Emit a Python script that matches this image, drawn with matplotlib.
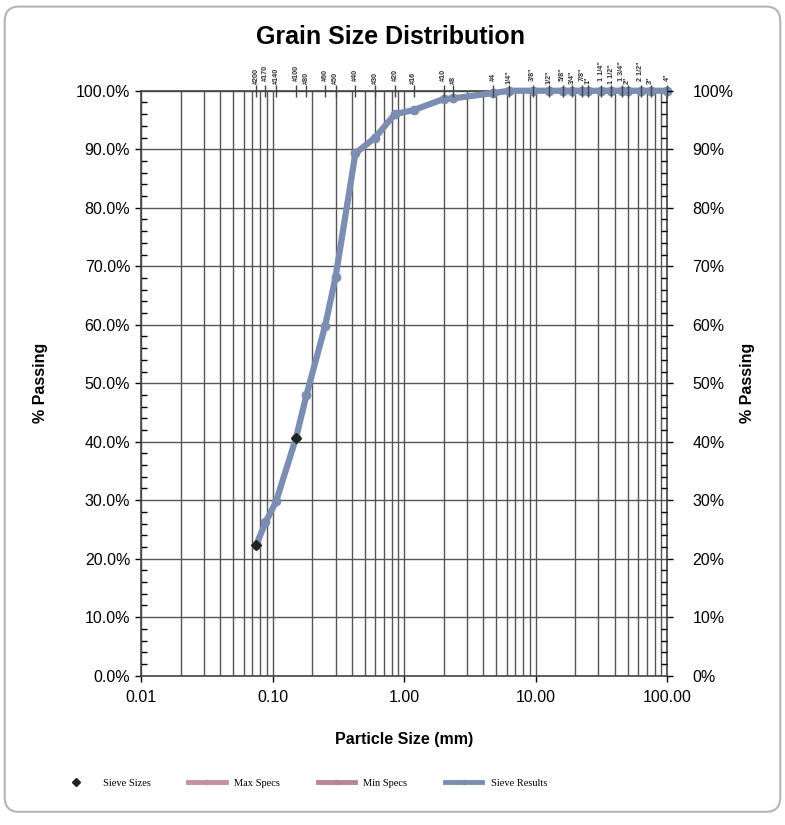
import matplotlib
matplotlib.use("Agg")
import matplotlib.pyplot as plt
from matplotlib.ticker import FixedLocator, MultipleLocator, NullFormatter, LogLocator
from matplotlib.patches import FancyBboxPatch
from matplotlib.lines import Line2D

# ---- data ----
sieve_labels = ['#200', '#170', '#140', '#100', '#80', '#60', '#50', '#40', '#30', '#20',
                '#16', '#10', '#8', '#4', '1/4"', '3/8"', '1/2"', '5/8"', '3/4"', '7/8"',
                '1"', '1 1/4"', '1 1/2"', '1 3/4"', '2"', '2 1/2"', '3"', '4"']
sieve_mm = [0.075, 0.088, 0.106, 0.15, 0.18, 0.25, 0.3, 0.425, 0.6, 0.85,
            1.18, 2.0, 2.36, 4.75, 6.3, 9.5, 12.5, 16, 19, 22.4,
            25, 31.5, 37.5, 45, 50, 63, 75, 100]
passing_pct = [22.4, 26.2, 29.8, 40.6, 47.9, 59.8, 68.1, 89.3, 92.0, 96.0,
               96.7, 98.6, 98.7, 99.6, 100, 100, 100, 100, 100, 100,
               100, 100, 100, 100, 100, 100, 100, 100]
highlight_idx = [0, 3]
x_ticks = [0.01, 0.1, 1, 10, 100]
x_ticklabels = ['0.01', '0.10', '1.00', '10.00', '100.00']
y_ticks = list(range(0, 101, 10))
y_left_labels = [f'{v:.1f}%' for v in y_ticks]
y_right_labels = [f'{v}%' for v in y_ticks]

res_color = '#7b8db0'
max_color = '#c6909f'
min_color = '#b8849a'

plt.rcParams['font.family'] = ['Liberation Sans', 'DejaVu Sans']

fig = plt.figure(figsize=(7.85, 8.25), dpi=100)
fig.patch.set_facecolor('white')

# frame
frame = FancyBboxPatch((0.006, 0.016), 0.988, 0.976, boxstyle='round,pad=0,rounding_size=0.018',
                       transform=fig.transFigure, fill=False, edgecolor='#b5b5b5', lw=1.5)
fig.patches.append(frame)

ax = fig.add_axes([0.180, 0.181, 0.670, 0.709])
ax.set_xscale('log')
ax.set_xlim(0.01, 100)
ax.set_ylim(0, 100)

ax.xaxis.set_major_locator(FixedLocator(x_ticks))
ax.set_xticks(x_ticks)
ax.set_xticklabels(x_ticklabels, fontsize=11.5)
ax.xaxis.set_minor_locator(LogLocator(base=10, subs=range(2, 10)))
ax.xaxis.set_minor_formatter(NullFormatter())
ax.grid(True, which='both', axis='x', color='#555555', lw=1.0)
ax.set_yticks(y_ticks)
ax.set_yticklabels(y_left_labels, fontsize=11.5)
ax.yaxis.set_minor_locator(MultipleLocator(2))
ax.grid(True, which='major', axis='y', color='#555555', lw=1.0)
ax.tick_params(axis='x', which='major', direction='out', length=4, width=1, pad=6)
ax.tick_params(axis='x', which='minor', length=0)
ax.tick_params(axis='y', which='major', direction='out', length=4, width=1, pad=4)
ax.tick_params(axis='y', which='minor', direction='in', length=4, width=1)
for s in ax.spines.values():
    s.set_color('#444444')
    s.set_linewidth(1.2)

ax2 = ax.twinx()
ax2.set_ylim(0, 100)
ax2.set_yticks(y_ticks)
ax2.set_yticklabels(y_right_labels, fontsize=11.5)
ax2.yaxis.set_minor_locator(MultipleLocator(2))
ax2.tick_params(axis='y', which='major', direction='out', length=4, width=1, pad=14)
ax2.tick_params(axis='y', which='minor', direction='in', length=4, width=1)
for s in ax2.spines.values():
    s.set_visible(False)

# sieve results curve
ax.plot(sieve_mm, passing_pct, color=res_color, lw=4.5, marker='o', ms=6,
        markerfacecolor=res_color, markeredgecolor=res_color, clip_on=False, zorder=5,
        solid_capstyle='round')
ax.plot([sieve_mm[i] for i in highlight_idx], [passing_pct[i] for i in highlight_idx],
        linestyle='none', marker='D', ms=5, color='#222222', zorder=6)

# sieve sizes at top with labels
ax.plot(sieve_mm, [100] * len(sieve_mm), linestyle='none', marker='|', ms=8,
        color='#444444', clip_on=False, zorder=6)
for i, (lab, d) in enumerate(zip(sieve_labels, sieve_mm)):
    ax.annotate(lab, xy=(d, 100), xytext=(0, 5 if i % 2 == 0 else 7), textcoords='offset points',
                rotation=90, ha='center', va='bottom', fontsize=5.2, color='#333333',
                fontweight='bold', annotation_clip=False)

ax.set_xlabel('Particle Size (mm)', fontsize=11.5, fontweight='bold', labelpad=20)
ax.set_ylabel('% Passing', fontsize=11.5, fontweight='bold', labelpad=20)
ax2.set_ylabel('% Passing', fontsize=11.5, fontweight='bold', labelpad=5)

fig.text(0.497, 0.955, 'Grain Size Distribution', ha='center', va='center',
         fontsize=18, fontweight='bold')

# legend
handles = [
    Line2D([], [], linestyle='none', marker='D', ms=4, color='#222222'),
    Line2D([], [], color=max_color, lw=3.5, marker='s', ms=3),
    Line2D([], [], color=min_color, lw=3.5, marker='o', ms=3),
    Line2D([], [], color=res_color, lw=3.5, marker='o', ms=3),
]
labels = ['Sieve Sizes', 'Max Specs', 'Min Specs', 'Sieve Results']
fig.legend(handles, labels, loc='center', bbox_to_anchor=(0.385, 0.051), ncol=4, frameon=False,
           prop={'family': 'Liberation Serif', 'size': 7.5}, handlelength=3.6,
           handletextpad=0.8, columnspacing=3.6)

fig.savefig('out.png', dpi=100, facecolor='white')
